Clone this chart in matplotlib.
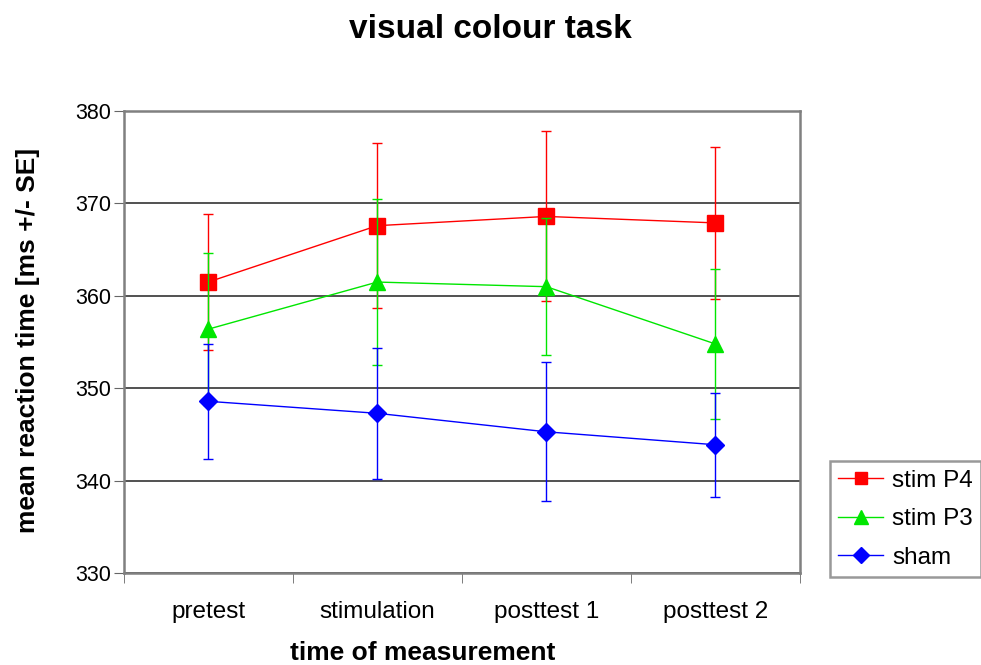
import matplotlib.pyplot as plt
import numpy as np

plt.rcParams['font.family'] = ['Liberation Sans', 'DejaVu Sans']

# data
categories = ['pretest', 'stimulation', 'posttest 1', 'posttest 2']
stim_p4 = [361.5, 367.6, 368.6, 367.9]
stim_p4_se = [7.4, 8.9, 9.2, 8.2]
stim_p3 = [356.4, 361.5, 361.0, 354.8]
stim_p3_se = [8.2, 9.0, 7.4, 8.1]
sham = [348.6, 347.3, 345.3, 343.9]
sham_se = [6.2, 7.1, 7.5, 5.6]

x = np.arange(len(categories))

fig = plt.figure(figsize=(9.81, 6.65), dpi=100)
ax = fig.add_axes([0.126, 0.138, 0.6895, 0.695])

series = [
    ('stim P4', stim_p4, stim_p4_se, '#ff0000', 's', 11),
    ('stim P3', stim_p3, stim_p3_se, '#00e600', '^', 12),
    ('sham', sham, sham_se, '#0000ff', 'D', 9.5),
]
for i, (name, vals, se, col, mk, ms) in enumerate(series):
    ax.errorbar(x, vals, yerr=se, color=col, marker=mk, markersize=ms,
                linewidth=1, elinewidth=1, capsize=3.5, capthick=1,
                label=name, zorder=3 + i)

ax.set_xlim(-0.5, 3.5)
ax.set_ylim(330, 380)
ax.set_yticks(np.arange(330, 381, 10))
ax.set_xticks(x)
ax.set_xticklabels(categories)
ax.set_xticks(np.arange(-0.5, 4, 1), minor=True)
ax.tick_params(axis='x', which='major', length=0, pad=20, labelsize=17.5)
ax.tick_params(axis='x', which='minor', length=7, direction='out', color='#666666')
ax.tick_params(axis='y', length=7, direction='out', color='#666666', labelsize=15.5, pad=2)

ax.yaxis.grid(True, color='#333333', linewidth=1.2)
ax.set_axisbelow(True)
for s in ax.spines.values():
    s.set_color('#808080')
    s.set_linewidth(1.8)

fig.text(423 / 981, 1 - 653 / 665, 'time of measurement',
         ha='center', va='center', fontsize=19, fontweight='bold')
fig.text(28 / 981, 1 - 340 / 665, 'mean reaction time [ms +/- SE]',
         ha='center', va='center', rotation=90, fontsize=19, fontweight='bold')
fig.text(490 / 981, 1 - 30 / 665, 'visual colour task',
         ha='center', va='center', fontsize=24, fontweight='bold')

handles, labels = ax.get_legend_handles_labels()
handles = [h[0] for h in handles]
leg = fig.legend(handles, labels, loc='lower left', bbox_to_anchor=(0.846, 0.132),
                 fontsize=17.5, frameon=True, fancybox=False, edgecolor='#808080',
                 handlelength=1.85, borderpad=0.35, labelspacing=0.68,
                 handletextpad=0.35, markerscale=0.85, borderaxespad=0)
leg.get_frame().set_linewidth(1.8)

fig.savefig('out.png', dpi=100)
